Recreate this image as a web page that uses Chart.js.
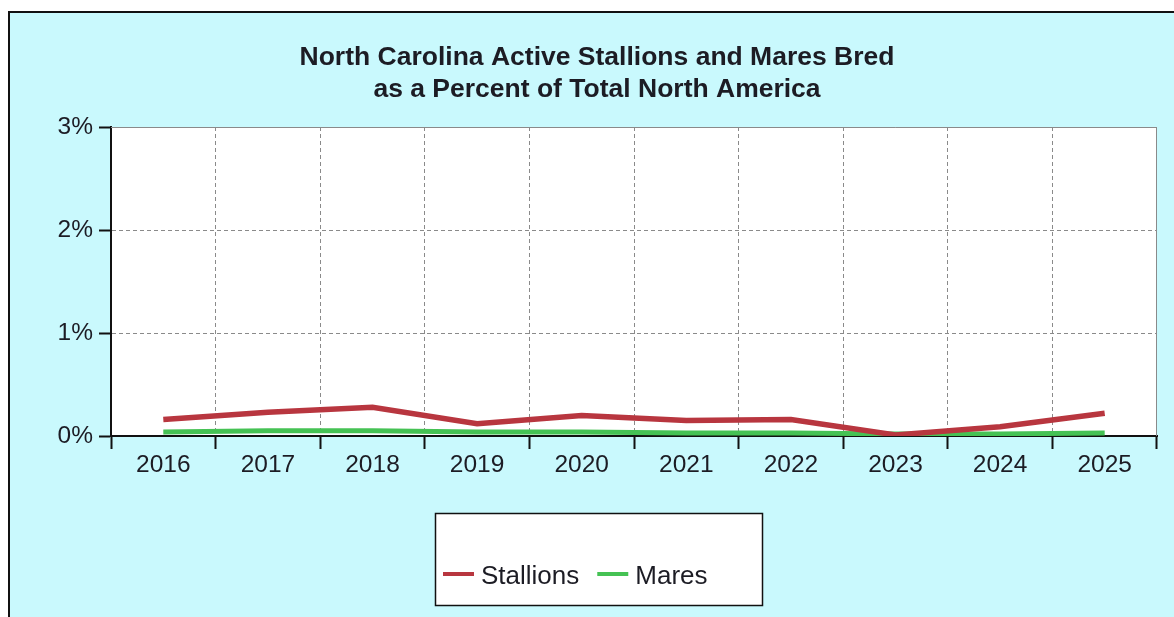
<!DOCTYPE html>
<html>
<head>
<meta charset="utf-8">
<script src="https://cdn.jsdelivr.net/npm/chart.js@4/dist/chart.umd.min.js"></script>
<style>
  body { margin: 0; background: #fff; overflow: hidden; }
  #frame {
    position: absolute; left: 8px; top: 11px; width: 1170px; height: 610px;
    border-left: 2px solid #111; border-top: 2px solid #111;
    background: #C9F9FD;
  }
  #wrap { position: absolute; left: 0; top: 0; width: 1174px; height: 617px; }
</style>
</head>
<body>
<div id="frame"></div>
<div id="wrap"><canvas id="chart" width="1174" height="617"></canvas></div>
<script>
// Chart text and values
const titleLines = ['North Carolina Active Stallions and Mares Bred', 'as a Percent of Total North America'];
const years = ['2016', '2017', '2018', '2019', '2020', '2021', '2022', '2023', '2024', '2025'];
const stallionsPct = [0.16, 0.23, 0.28, 0.12, 0.20, 0.15, 0.16, 0.01, 0.09, 0.22];
const maresPct = [0.04, 0.05, 0.05, 0.04, 0.04, 0.03, 0.03, 0.02, 0.02, 0.03];

const FONT = '"Liberation Sans", Arial, sans-serif';
const TEXT = '#1c1c24';

// white plot area with grey frame on top/right
const plotBox = {
    id: 'plotBox',
    beforeDraw(chart) {
        const a = chart.chartArea, ctx = chart.ctx;
        ctx.save();
        ctx.fillStyle = '#fff';
        ctx.fillRect(a.left, a.top, a.right - a.left, a.bottom - a.top);
        ctx.restore();
    },
    afterDatasetsDraw(chart) {
        const a = chart.chartArea, ctx = chart.ctx;
        ctx.save();
        ctx.strokeStyle = '#8a8a8a';
        ctx.lineWidth = 1;
        ctx.beginPath();
        ctx.moveTo(a.left, a.top + 0.5);
        ctx.lineTo(a.right - 0.5, a.top + 0.5);
        ctx.lineTo(a.right - 0.5, a.bottom);
        ctx.stroke();
        ctx.restore();
    }
};

// title and boxed legend
const titleAndLegend = {
    id: 'titleAndLegend',
    afterDraw(chart) {
        const ctx = chart.ctx;
        ctx.save();
        ctx.fillStyle = TEXT;
        ctx.textAlign = 'center';
        ctx.textBaseline = 'middle';
        ctx.font = 'bold 26.5px ' + FONT;
        ctx.fillText(titleLines[0], 597, 58);
        ctx.fillText(titleLines[1], 597, 90);

        // legend box
        ctx.fillStyle = '#fff';
        ctx.fillRect(435, 513, 328, 93);
        ctx.strokeStyle = '#111';
        ctx.lineWidth = 1.5;
        ctx.strokeRect(435.5, 513.5, 327, 92);

        ctx.font = '26px ' + FONT;
        ctx.textAlign = 'left';
        let x = 443;
        chart.data.datasets.forEach(ds => {
            ctx.strokeStyle = ds.borderColor;
            ctx.lineWidth = 4;
            ctx.beginPath();
            ctx.moveTo(x, 574);
            ctx.lineTo(x + 31, 574);
            ctx.stroke();
            ctx.fillStyle = TEXT;
            ctx.fillText(ds.label, x + 38, 577);
            x += 38 + ctx.measureText(ds.label).width + 18;
        });
        ctx.restore();
    }
};

new Chart(document.getElementById('chart'), {
    type: 'line',
    data: {
        labels: years,
        datasets: [
            { label: 'Stallions', data: stallionsPct, borderColor: '#B8363F', borderWidth: 5.5, pointRadius: 0, tension: 0 },
            { label: 'Mares', data: maresPct, borderColor: '#45C254', borderWidth: 5, pointRadius: 0, tension: 0 }
        ]
    },
    options: {
        responsive: false,
        animation: false,
        layout: { padding: { left: 0, right: 17, top: 127, bottom: 0 } },
        plugins: { legend: { display: false }, title: { display: false }, tooltip: { enabled: false } },
        scales: {
            x: {
                offset: true,
                afterFit: s => { s.height = 181; },
                grid: { offset: true, color: '#8a8a8a', lineWidth: 1, tickLength: 13, tickColor: '#111', tickWidth: 2 },
                border: { color: '#111', width: 2, dash: [4, 3] },
                ticks: { color: TEXT, font: { family: FONT, size: 24.5 }, padding: 2, maxRotation: 0, autoSkip: false }
            },
            y: {
                min: 0, max: 3,
                afterFit: s => { s.width = 111; },
                grid: { color: '#8a8a8a', lineWidth: 1, tickLength: 12, tickColor: '#111', tickWidth: 2 },
                border: { color: '#111', width: 2, dash: [4, 3] },
                ticks: { stepSize: 1, color: TEXT, font: { family: FONT, size: 24.5 }, padding: 6, callback: v => v + '%' }
            }
        }
    },
    plugins: [plotBox, titleAndLegend]
});
</script>
</body>
</html>
